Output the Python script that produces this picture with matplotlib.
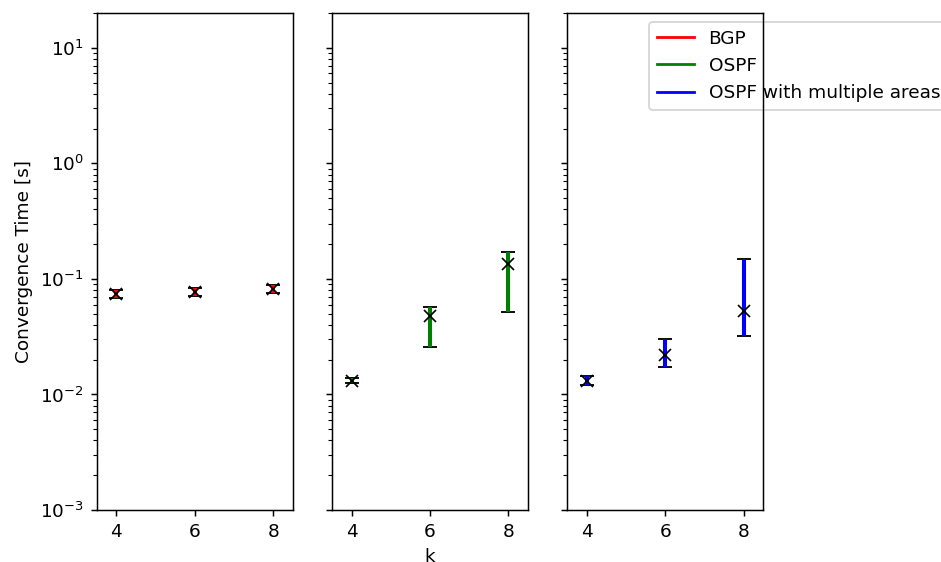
import numpy as np
import matplotlib
matplotlib.use("Agg")
import matplotlib.pyplot as plt
from matplotlib.lines import Line2D

# k values and convergence times (mean, lower, upper)
k_values = [4, 6, 8]

bgp_mean = [0.074, 0.077, 0.082]
bgp_low = [0.0685, 0.0712, 0.0758]
bgp_high = [0.0800, 0.0833, 0.0886]

ospf_mean = [0.0132, 0.0476, 0.135]
ospf_low = [0.0125, 0.0257, 0.0517]
ospf_high = [0.0140, 0.0575, 0.172]

ospf_ma_mean = [0.0131, 0.0218, 0.053]
ospf_ma_low = [0.0120, 0.0172, 0.0319]
ospf_ma_high = [0.0144, 0.0300, 0.149]

labels = ["BGP", "OSPF", "OSPF with multiple areas"]
colors = ["red", "green", "blue"]

dpi = 133.33
fig, axes = plt.subplots(1, 3, sharey=True, figsize=(941 / dpi, 562 / dpi), dpi=dpi)
fig.subplots_adjust(left=0.1028, right=0.8112, top=0.9769, bottom=0.0925, wspace=0.2)

series = [
    (bgp_mean, bgp_low, bgp_high),
    (ospf_mean, ospf_low, ospf_high),
    (ospf_ma_mean, ospf_ma_low, ospf_ma_high),
]

for ax, (mean, low, high), c in zip(axes, series, colors):
    mean = np.array(mean)
    yerr = [mean - np.array(low), np.array(high) - mean]
    _, caps, bars = ax.errorbar(k_values, mean, yerr=yerr, fmt='none', ecolor=c,
                                elinewidth=2.2, capsize=4, capthick=1)
    # black caps, coloured bar drawn over them
    for cap in caps:
        cap.set_markeredgecolor('black')
        cap.set_color('black')
        cap.set_zorder(1.9)
    for b in bars:
        b.set_zorder(2.1)
    ax.plot(k_values, mean, 'kx', markersize=6, markeredgewidth=0.9, zorder=3)
    ax.set_yscale('log')
    ax.set_xticks(k_values)
    ax.set_xlim(3.5, 8.5)

axes[0].set_ylim(1e-3, 20)
axes[0].set_ylabel("Convergence Time [s]")
axes[1].set_xlabel("k")

# legend sits under the right spine of the last panel
handles = [Line2D([0], [0], color=c, lw=1.5) for c in colors]
leg = axes[2].legend(handles, labels, loc='upper left',
                     bbox_to_anchor=(640 / 941, 1 - 13 / 562),
                     bbox_transform=fig.transFigure)
leg.set_zorder(2)

fig.savefig("out.png", dpi=dpi)
